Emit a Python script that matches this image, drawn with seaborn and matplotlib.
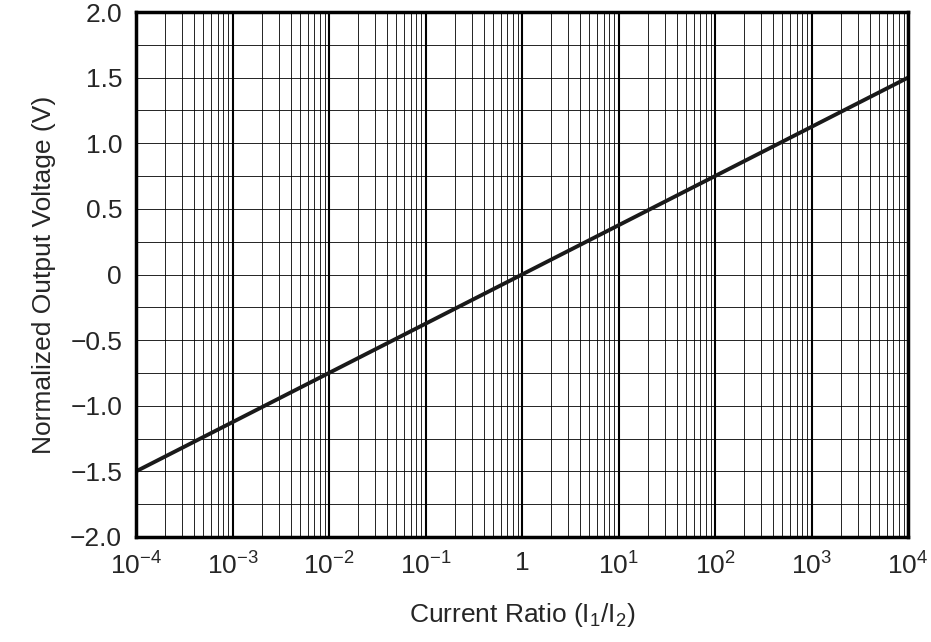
import matplotlib
matplotlib.use("Agg")
import matplotlib.pyplot as plt
import seaborn as sns
import numpy as np
import pandas as pd
from matplotlib.ticker import LogLocator, FixedLocator, NullFormatter

ratio = [1e-4, 1e-3, 1e-2, 1e-1, 1, 1e1, 1e2, 1e3, 1e4]
voltage = [-1.5, -1.125, -0.75, -0.375, 0.0, 0.375, 0.75, 1.125, 1.5]
xticklabels = [r"10$^{-4}$", r"10$^{-3}$", r"10$^{-2}$", r"10$^{-1}$", "1",
               r"10$^{1}$", r"10$^{2}$", r"10$^{3}$", r"10$^{4}$"]
yticks = [-2.0, -1.5, -1.0, -0.5, 0, 0.5, 1.0, 1.5, 2.0]
yticklabels = ["\u22122.0", "\u22121.5", "\u22121.0", "\u22120.5", "0", "0.5", "1.0", "1.5", "2.0"]

sns.set_style("white")
plt.rcParams['font.family'] = ['Liberation Sans', 'DejaVu Sans']
plt.rcParams['mathtext.fontset'] = 'custom'
plt.rcParams['mathtext.rm'] = 'Liberation Sans'

fig = plt.figure(figsize=(9.31, 6.42), dpi=100)
ax = fig.add_axes([136/931, 1-537/642, (908-136)/931, (537-12)/642])
df = pd.DataFrame({"r": ratio, "v": voltage})
sns.lineplot(data=df, x="r", y="v", ax=ax, color="#1a1a1a", linewidth=2.8)
ax.set_xscale("log")
ax.set_xlim(1e-4, 1e4)
ax.set_ylim(-2, 2)
ax.set_xticks(ratio)
ax.set_xticklabels(xticklabels, fontsize=19)
ax.xaxis.set_minor_locator(LogLocator(base=10, subs=np.arange(2, 10)))
ax.xaxis.set_minor_formatter(NullFormatter())
ax.set_yticks(yticks)
ax.set_yticklabels(yticklabels, fontsize=19)
ax.yaxis.set_minor_locator(FixedLocator(np.arange(-2, 2.01, 0.25)))
ax.grid(which="major", axis="x", color="black", linewidth=1.5)
ax.grid(which="minor", axis="x", color="black", linewidth=0.6)
ax.grid(which="both", axis="y", color="black", linewidth=0.6)
ax.tick_params(which="both", length=0, pad=10)
for s in ax.spines.values():
    s.set_linewidth(2.5)
    s.set_color("black")
ax.set_xlabel("Current Ratio (I$_1$/I$_2$)", fontsize=19, labelpad=16)
ax.set_ylabel("Normalized Output Voltage (V)", fontsize=19, labelpad=10)
fig.savefig("out.png", dpi=100)
